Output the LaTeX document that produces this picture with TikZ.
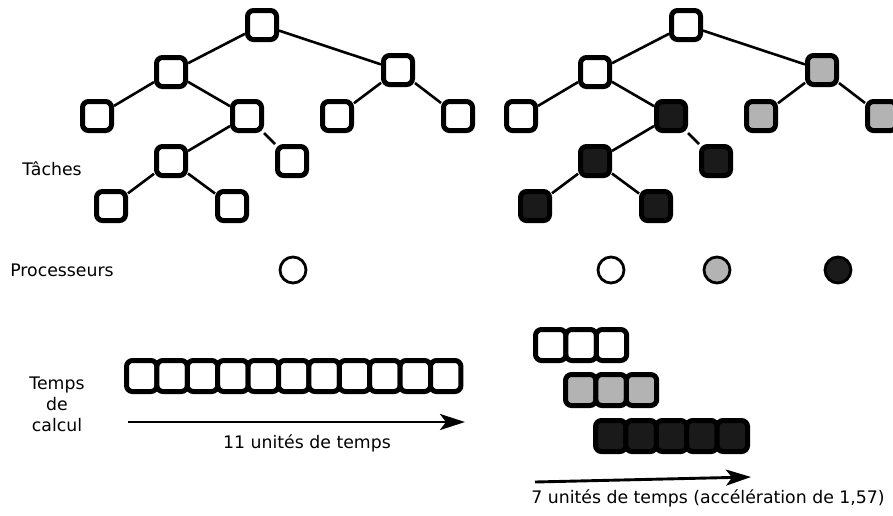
\documentclass[tikz,border=0pt]{standalone}
\usepackage{fontspec}
\setmainfont{DejaVu Sans}
\usetikzlibrary{arrows.meta}
\definecolor{pgray}{HTML}{B3B3B3}
\definecolor{pdark}{HTML}{1A1A1A}
\tikzset{
  task/.style={draw=black, fill=white, line width=5pt, rounded corners=6pt, minimum size=29pt, inner sep=0pt},
  slot/.style={draw=black, fill=white, line width=5pt, rounded corners=6pt, minimum width=30.4pt, minimum height=31pt, inner sep=0pt},
  proc/.style={draw=black, fill=white, line width=2.8pt, circle, minimum size=26pt, inner sep=0pt},
  link/.style={line width=2.6pt},
  timearrow/.style={line width=2.9pt, -{Stealth[length=25pt,width=16pt,inset=6pt]}},
  lbl/.style={font=\fontsize{17.3}{21}\selectfont, inner sep=0pt, align=center},
  wht/.style={fill=white}, gry/.style={fill=pgray}, drk/.style={fill=pdark}
}
\begin{document}
\begin{tikzpicture}[x=1pt,y=-1pt]
\useasboundingbox (0,0) rectangle (893,515);
% left tree
\node[task] (a0) at (262,25) {};
\node[task] (a1) at (171,72) {};
\node[task] (a2) at (398,70) {};
\node[task] (a3) at (97,116) {};
\node[task] (a4) at (247,116) {};
\node[task] (a5) at (337,116) {};
\node[task] (a6) at (458,116) {};
\node[task] (a7) at (171,161) {};
\node[task] (a8) at (292,161) {};
\node[task] (a9) at (111,206) {};
\node[task] (a10) at (232,206) {};
\draw[link] (a0)--(a1) (a0)--(a2) (a1)--(a3) (a1)--(a4) (a2)--(a5) (a2)--(a6)
  (a4)--(a7) (a4)--(a8) (a7)--(a9) (a7)--(a10);
% right tree
\node[task,wht] (b0) at (686,25) {};
\node[task,wht] (b1) at (595,72) {};
\node[task,gry] (b2) at (822,70) {};
\node[task,wht] (b3) at (521,116) {};
\node[task,drk] (b4) at (671,116) {};
\node[task,gry] (b5) at (761,116) {};
\node[task,gry] (b6) at (882,116) {};
\node[task,drk] (b7) at (595,161) {};
\node[task,drk] (b8) at (716,161) {};
\node[task,drk] (b9) at (535,206) {};
\node[task,drk] (b10) at (656,206) {};
\draw[link] (b0)--(b1) (b0)--(b2) (b1)--(b3) (b1)--(b4) (b2)--(b5) (b2)--(b6)
  (b4)--(b7) (b4)--(b8) (b7)--(b9) (b7)--(b10);
% labels
\node[lbl] (lt) at (52,169) {Tâches};
\node[lbl] (lp) at (62,270) {Processeurs};
\node[lbl] (lc) at (57,404) {Temps\\de\\calcul};
% processors
\node[proc,wht] (p0) at (293,270) {};
\node[proc,wht] (p1) at (611,270) {};
\node[proc,gry] (p2) at (717,270) {};
\node[proc,drk] (p3) at (838,270) {};
% left time row
\foreach \i in {0,...,10} {
  \node[slot] (s\i) at (141.7+30.4*\i,376) {};
}
\coordinate (la0) at (128,422);
\coordinate (la1) at (465,422);
\draw[timearrow] (la0) -- (la1);
\node[lbl] (t1) at (307,443) {11 unités de temps};
% right time rows
\foreach \i in {0,1,2} {
  \node[slot,wht] (r\i) at (550.7+30.4*\i,345) {};
}
\foreach \i in {0,1,2} {
  \node[slot,gry] (g\i) at (580.7+30.4*\i,390) {};
}
\foreach \i in {0,...,4} {
  \node[slot,drk] (d\i) at (610.7+30.4*\i,436) {};
}
\coordinate (ra0) at (535,482);
\coordinate (ra1) at (751,477);
\draw[timearrow] (ra0) -- (ra1);
\node[lbl] (t2) at (708,498) {7 unités de temps (accélération de 1,57)};
\end{tikzpicture}
\end{document}
